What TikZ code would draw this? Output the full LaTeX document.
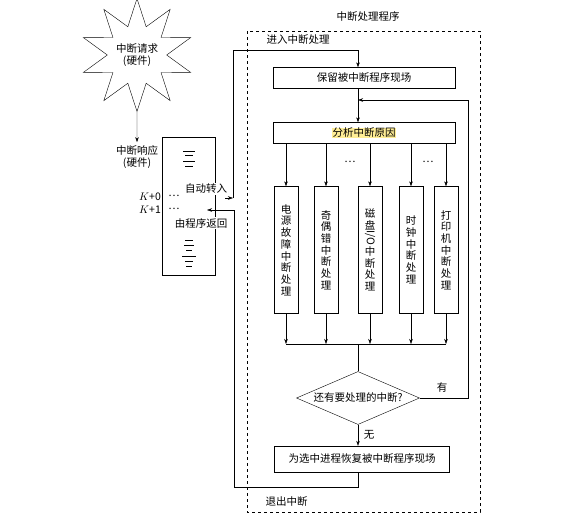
\documentclass[tikz,border=0pt]{standalone}
\usepackage{fontspec}
\setmainfont{Noto Sans CJK SC}
\usetikzlibrary{positioning,arrows.meta,shapes.geometric}
\definecolor{hlyellow}{RGB}{255,238,150}

\begin{document}
\begin{tikzpicture}[>={Stealth[length=5pt,width=3.5pt]}, x=1pt, y=-1pt,
  font=\fontsize{10.5}{11.7}\selectfont,
  box/.style={draw, minimum width=182pt, minimum height=21pt, inner sep=0pt},
  vbox/.style={draw, minimum width=24pt, minimum height=127pt, align=center, inner sep=0pt},
  note/.style={inner sep=1pt, fill=white}]
\useasboundingbox (0,0) rectangle (587,522);

% interrupt request (left)
\node[draw, star, star points=10, star point ratio=1.9, minimum size=102pt,
  align=center, inner sep=0pt] (req) at (137,55) {中断请求\\(硬件)};
\node[align=center] (resp) at (137,157) {中断响应\\(硬件)};
\draw[->] (req.south) -- (resp.north);

% memory of the interrupted program
\node[draw, minimum width=53pt, minimum height=138pt] (mem) at (189,206) {};
\foreach \y/\w in {151/6,155/4,161/6,166/4,240/4,245/5,250/3,256/7,261/4,266/3}
  \draw[line width=0.5pt] (189-\w,\y) -- (189+\w,\y);
\node (k0) at (150,197) {$K$+0};
\node (k1) at (150,210) {$K$+1};
\node (d0) at (174,196) {…};
\node (d1) at (174,209) {…};
\node[note] (auto) at (206,189) {自动转入};
\node[note] (back) at (201,223) {由程序返回};

% interrupt handler
\draw[dashed] (247,31) rectangle (480,512);
\node (title) at (368,17) {中断处理程序};
\node[anchor=west] (enter) at (263,40) {进入中断处理};
\node[anchor=west] (exit) at (262,502) {退出中断};
\coordinate (col) at (358,0);

\node[box] (save) at (364,78) {保留被中断程序现场};
\node[box] (anal) at (364,133) {\setlength{\fboxsep}{0.5pt}\colorbox{hlyellow}{分析中断原因}};

\node[vbox] (h1) at (286,250) {电\\源\\故\\障\\中\\断\\处\\理};
\node[vbox] (h2) at (326,250) {奇\\偶\\错\\中\\断\\处\\理};
\node[vbox] (h3) at (370,250) {磁\\盘\\\rotatebox[origin=c]{-90}{I/O}\\中\\断\\处\\理};
\node[vbox] (h4) at (411,250) {时\\钟\\中\\断\\处\\理};
\node[vbox] (h5) at (446,250) {打\\印\\机\\中\\断\\处\\理};
\node (dots1) at (350,162) {…};
\node (dots2) at (428,162) {…};

\node[draw, diamond, minimum width=123pt, minimum height=53pt, inner sep=0pt] (ask) at (358,398) {};
\node (askt) at (ask.center) {还有要处理的中断?};
\node[draw, minimum width=175pt, minimum height=26pt, inner sep=0pt] (rest) at (362,459) {为选中进程恢复被中断程序现场};
\node (yes) at (442,388) {有};
\node (no) at (369,435) {无};

% flow
\coordinate (go) at (225,198);
\coordinate (ret) at (207,210);
\coordinate (j) at (0,344);
\draw[->] (go) -- (233,198);
\draw[->] (233,198) -- (233,50) -| (save.north -| col);
\draw[->] (save.south -| col) -- (anal.north -| col);
\foreach \h in {h1,h2,h3,h4,h5} {
  \draw[->] (anal.south -| \h) -- (\h.north);
  \draw[->] (\h.south) -- (\h.south |- j);
}
\draw (h1.south |- j) -- (h5.south |- j);
\draw (col |- j) -- (ask.north);
\draw[->] (ask.east) -- (468,398) -- (468,100) -- (col |- 0,100);
\draw[->] (ask.south) -- (rest.north -| col);
\draw[->] (rest.south -| col) -- (col |- 0,487) -- (234,487) -- (234,210) -- (ret);
\end{tikzpicture}
\end{document}
